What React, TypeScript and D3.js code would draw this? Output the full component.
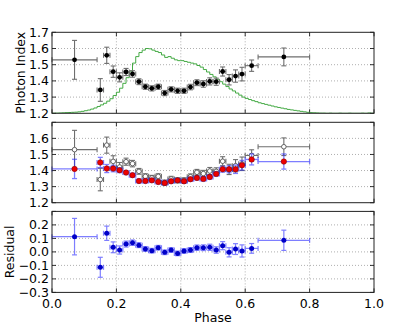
import React from "react";
import * as d3 from "d3";

// ---- data ----
const phase = [0.07, 0.15, 0.17, 0.19, 0.21, 0.23, 0.25, 0.27, 0.29, 0.31, 0.33, 0.35, 0.37, 0.39, 0.41, 0.43, 0.45, 0.47, 0.49, 0.51, 0.53, 0.55, 0.57, 0.59, 0.62, 0.72];
const phaseErr = [0.07, 0.01, 0.01, 0.01, 0.01, 0.01, 0.01, 0.01, 0.01, 0.01, 0.01, 0.01, 0.01, 0.01, 0.01, 0.01, 0.01, 0.01, 0.01, 0.01, 0.01, 0.01, 0.01, 0.01, 0.02, 0.08];
const photonIndex = [1.53, 1.344, 1.558, 1.457, 1.422, 1.455, 1.443, 1.395, 1.364, 1.354, 1.364, 1.325, 1.348, 1.339, 1.339, 1.362, 1.389, 1.381, 1.397, 1.395, 1.458, 1.407, 1.43, 1.442, 1.494, 1.548];
const photonIndexErr = [0.12, 0.07, 0.05, 0.035, 0.028, 0.022, 0.02, 0.018, 0.016, 0.016, 0.016, 0.016, 0.016, 0.016, 0.016, 0.017, 0.018, 0.02, 0.022, 0.022, 0.028, 0.032, 0.038, 0.042, 0.035, 0.055];
const modelIndex = [1.41, 1.45, 1.4125, 1.4125, 1.402, 1.3875, 1.371, 1.335, 1.335, 1.339, 1.329, 1.3225, 1.333, 1.339, 1.333, 1.346, 1.354, 1.348, 1.36, 1.379, 1.408, 1.408, 1.408, 1.433, 1.469, 1.456];
const modelIndexErr = [0.06, 0.032, 0.025, 0.02, 0.015, 0.012, 0.012, 0.012, 0.012, 0.012, 0.012, 0.012, 0.012, 0.012, 0.012, 0.012, 0.012, 0.014, 0.014, 0.014, 0.018, 0.022, 0.026, 0.03, 0.034, 0.047];
const residual = [0.113, -0.114, 0.138, 0.034, 0.014, 0.058, 0.068, 0.05, 0.022, 0.009, 0.031, -0.003, 0.014, -0.011, 0.007, 0.014, 0.031, 0.031, 0.034, 0.014, 0.046, -0.003, 0.021, 0.007, 0.026, 0.086];
const residualErr = [0.135, 0.074, 0.053, 0.04, 0.03, 0.022, 0.02, 0.018, 0.017, 0.017, 0.017, 0.017, 0.017, 0.017, 0.017, 0.018, 0.02, 0.021, 0.023, 0.024, 0.03, 0.034, 0.04, 0.045, 0.036, 0.075];

// light curve (scaled), step histogram, bin width 0.01 starting at 0.00
const lightCurve = [
  1.2, 1.201, 1.202, 1.203, 1.204, 1.205, 1.206, 1.207, 1.209, 1.212,
  1.216, 1.22, 1.226, 1.233, 1.242, 1.252, 1.262, 1.275, 1.29, 1.31,
  1.33, 1.355, 1.385, 1.42, 1.46, 1.51, 1.55, 1.575, 1.59, 1.6,
  1.598, 1.59, 1.582, 1.575, 1.56, 1.545, 1.55, 1.54, 1.53, 1.525,
  1.525, 1.52, 1.515, 1.51, 1.505, 1.495, 1.485, 1.47, 1.455, 1.44,
  1.425, 1.41, 1.395, 1.38, 1.365, 1.35, 1.338, 1.325, 1.312, 1.3,
  1.292, 1.285, 1.278, 1.272, 1.265, 1.26, 1.255, 1.25, 1.245, 1.24,
  1.236, 1.232, 1.228, 1.224, 1.221, 1.218, 1.215, 1.212, 1.209, 1.206,
  1.204, 1.203, 1.202, 1.201, 1.201, 1.2, 1.201, 1.2, 1.2, 1.201,
  1.2, 1.2, 1.201, 1.2, 1.2, 1.2, 1.201, 1.2, 1.202, 1.2,
];
const lcBinWidth = 0.01;

const xTicks = [0, 0.2, 0.4, 0.6, 0.8, 1.0];
const indexTicksTop = [1.2, 1.3, 1.4, 1.5, 1.6, 1.7];
const indexTicksMid = [1.2, 1.3, 1.4, 1.5, 1.6];
const residTicks = [-0.3, -0.2, -0.1, 0.0, 0.1, 0.2];
const residGrid = [-0.3, -0.2, -0.1, 0.0, 0.1, 0.2, 0.3];

// ---- layout ----
const W = 416, H = 326;
const X0 = 52, X1 = 374;
const FONT = "DejaVu Sans, sans-serif";
const FS = 12.5;

const x = d3.scaleLinear().domain([0, 1]).range([X0, X1]);
const yTop = d3.scaleLinear().domain([1.2, 1.7]).range([113.3, 32.3]);
const yMid = d3.scaleLinear().domain([1.2, 1.7]).range([202.7, 122.3]);
const yRes = d3.scaleLinear().domain([-0.3, 0.3]).range([292.4, 211.4]);

const fmt = (v: number) => {
  const s = d3.format(".1f")(Math.abs(v) < 1e-9 ? 0 : v);
  return s.replace("-", "\u2212");
};

function Panel({ y, ticks, allTicks, label, labelX, showX }: any) {
  const [b, t] = y.range();
  return (
    <g>
      {xTicks.slice(1, -1).map((v) => (
        <line key={"gx" + v} x1={x(v)} x2={x(v)} y1={t} y2={b} stroke="#9a9a9a" strokeWidth={0.8} strokeDasharray="1,2" />
      ))}
      {allTicks.slice(1, -1).map((v: number) => (
        <line key={"gy" + v} x1={X0} x2={X1} y1={y(v)} y2={y(v)} stroke="#9a9a9a" strokeWidth={0.8} strokeDasharray="1,2" />
      ))}
      {xTicks.map((v) => (
        <g key={"tx" + v}>
          <line x1={x(v)} x2={x(v)} y1={b} y2={b - 4} stroke="#000" strokeWidth={0.8} />
          <line x1={x(v)} x2={x(v)} y1={t} y2={t + 4} stroke="#000" strokeWidth={0.8} />
        </g>
      ))}
      {allTicks.map((v: number) => (
        <g key={"ty" + v}>
          <line x1={X0} x2={X0 + 4} y1={y(v)} y2={y(v)} stroke="#000" strokeWidth={0.8} />
          <line x1={X1} x2={X1 - 4} y1={y(v)} y2={y(v)} stroke="#000" strokeWidth={0.8} />
        </g>
      ))}
      {ticks.map((v: number) => (
        <text key={"ly" + v} x={X0 - 3} y={y(v)} dy="0.36em" textAnchor="end" fontFamily={FONT} fontSize={FS}>{fmt(v)}</text>
      ))}
      {showX && xTicks.map((v) => (
        <text key={"lx" + v} x={x(v)} y={b + 15.5} textAnchor="middle" fontFamily={FONT} fontSize={FS}>{fmt(v)}</text>
      ))}
      {label && (
        <text transform={`translate(${labelX},${(t + b) / 2}) rotate(-90)`} textAnchor="middle" fontFamily={FONT} fontSize={FS}>{label}</text>
      )}
    </g>
  );
}

function Frame({ y }: any) {
  const [b, t] = y.range();
  return <rect x={X0} y={t} width={X1 - X0} height={b - t} fill="none" stroke="#222" strokeWidth={1} />;
}

function ErrBars({ xs, xe, ys, ye, y, color, opacity = 1, cap = 2.5, width = 1 }: any) {
  return (
    <g stroke={color} strokeWidth={width} opacity={opacity} fill="none">
      {xs.map((xv: number, i: number) => {
        const px = x(xv), py = y(ys[i]);
        const y1 = y(ys[i] + ye[i]), y2 = y(ys[i] - ye[i]);
        const x1 = x(xv - xe[i]), x2 = x(xv + xe[i]);
        return (
          <g key={i}>
            <line x1={px} x2={px} y1={y1} y2={y2} />
            <line x1={px - cap} x2={px + cap} y1={y1} y2={y1} />
            <line x1={px - cap} x2={px + cap} y1={y2} y2={y2} />
            <line x1={x1} x2={x2} y1={py} y2={py} />
            <line x1={x1} x2={x1} y1={py - cap} y2={py + cap} />
            <line x1={x2} x2={x2} y1={py - cap} y2={py + cap} />
          </g>
        );
      })}
    </g>
  );
}

export default function App() {
  const lcPts: [number, number][] = lightCurve.map((v, i) => [i * lcBinWidth, v]);
  lcPts.push([lightCurve.length * lcBinWidth, lightCurve[lightCurve.length - 1]]);
  const lcLine = d3.line<[number, number]>().x((d) => x(d[0])).y((d) => yTop(d[1])).curve(d3.curveStepAfter);

  return (
    <svg width={W} height={H} style={{ position: "absolute", left: 0, top: 0, background: "#fff" }}>
      <rect x={0} y={0} width={W} height={H} fill="#fff" />
      <defs>
        <clipPath id="cTop"><rect x={X0} y={32.3} width={X1 - X0} height={81} /></clipPath>
      </defs>

      {/* top panel */}
      <Panel y={yTop} ticks={indexTicksTop} allTicks={indexTicksTop} label="Photon Index" labelX={25} />
      <path d={lcLine(lcPts) || ""} fill="none" stroke="#44aa44" strokeWidth={1} clipPath="url(#cTop)" />
      <ErrBars xs={phase} xe={phaseErr} ys={photonIndex} ye={photonIndexErr} y={yTop} color="#6e6e6e" width={1.1} />
      {phase.map((p, i) => (
        <circle key={i} cx={x(p)} cy={yTop(photonIndex[i])} r={2.4} fill="#000" />
      ))}
      <Frame y={yTop} />

      {/* middle panel */}
      <Panel y={yMid} ticks={indexTicksMid} allTicks={indexTicksTop} />
      <ErrBars xs={phase} xe={phaseErr} ys={photonIndex} ye={photonIndexErr} y={yMid} color="#6e6e6e" width={1.1} />
      {phase.map((p, i) => (
        <circle key={i} cx={x(p)} cy={yMid(photonIndex[i])} r={2.3} fill="#fff" stroke="#555" strokeWidth={0.9} />
      ))}
      <ErrBars xs={phase} xe={phaseErr} ys={modelIndex} ye={modelIndexErr} y={yMid} color="#2a2aff" opacity={0.6} width={1.3} />
      {phase.map((p, i) => (
        <circle key={i} cx={x(p)} cy={yMid(modelIndex[i])} r={2.7} fill="#ee0000" stroke="#8a0000" strokeWidth={0.6} />
      ))}
      <Frame y={yMid} />

      {/* bottom panel */}
      <Panel y={yRes} ticks={residTicks} allTicks={residGrid} label="Residual" labelX={14} showX />
      <ErrBars xs={phase} xe={phaseErr} ys={residual} ye={residualErr} y={yRes} color="#3a3aff" opacity={0.65} width={1.2} />
      {phase.map((p, i) => (
        <circle key={i} cx={x(p)} cy={yRes(residual[i])} r={2.5} fill="#0000c8" />
      ))}
      <Frame y={yRes} />

      <text x={(X0 + X1) / 2} y={322} textAnchor="middle" fontFamily={FONT} fontSize={FS}>Phase</text>
    </svg>
  );
}
